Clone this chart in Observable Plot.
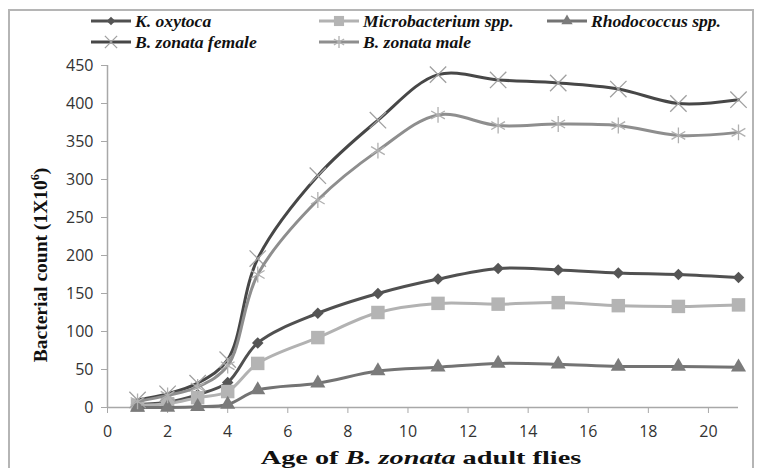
<!DOCTYPE html>
<html>
<head>
<meta charset="utf-8">
<script src="https://cdn.jsdelivr.net/npm/d3@7"></script>
<script src="https://cdn.jsdelivr.net/npm/@observablehq/plot@0.6"></script>
<style>
  html, body { margin: 0; padding: 0; background: #fff; }
  #wrap { position: relative; width: 758px; height: 468px; overflow: hidden; }
  #frame { position: absolute; left: 8px; top: 9px; width: 746px; height: 480px; border: 2px solid #b5b5b5; box-sizing: border-box; pointer-events: none; }
  #legend { position: absolute; left: 0; top: 0; width: 758px; height: 60px; font-family: "Liberation Serif", "DejaVu Serif", serif; font-weight: bold; font-style: italic; font-size: 17.6px; color: #111; }
  .item { position: absolute; display: flex; align-items: center; white-space: nowrap; }
  .item svg { margin-right: 3px; }
  #ylabel { position: absolute; left: 40px; top: 265px; width: max-content; transform: translate(-50%, -50%) rotate(-90deg); font-family: "Liberation Serif", serif; font-weight: bold; font-size: 19.5px; white-space: nowrap; color: #111; }
  #xlabel { position: absolute; left: 421px; top: 458px; width: max-content; line-height: 1; transform: translate(-50%, -50%) scaleX(1.45); font-family: "Liberation Serif", serif; font-weight: bold; font-size: 19.5px; white-space: nowrap; color: #111; }
</style>
</head>
<body>
<div id="wrap">
  <div id="chart"></div>
  <div id="frame"></div>
  <div id="legend"></div>
  <div id="ylabel">Bacterial count (1X10<sup style="font-size:12px">6</sup>)</div>
  <div id="xlabel">Age of <i>B. zonata</i> adult flies</div>
</div>
<script>
const days = [1, 2, 3, 4, 5, 7, 9, 11, 13, 15, 17, 19, 21];
const kOxytoca = [4, 7, 17, 33, 85, 124, 150, 169, 183, 181, 177, 175, 171];
const microbacterium = [3, 5, 13, 21, 58, 92, 125, 137, 136, 138, 134, 133, 135];
const rhodococcus = [0, 0, 1, 4, 23, 32, 48, 53, 58, 57, 54, 54, 53];
const zonataFemale = [10, 18, 32, 63, 196, 305, 378, 438, 431, 427, 419, 400, 405];
const zonataMale = [8, 16, 27, 55, 175, 273, 338, 385, 371, 373, 371, 358, 362];
const seriesNames = ["K. oxytoca", "Microbacterium spp.", "Rhodococcus spp.", "B. zonata female", "B. zonata male"];
const xTicks = [0, 2, 4, 6, 8, 10, 12, 14, 16, 18, 20];
const yTicks = [0, 50, 100, 150, 200, 250, 300, 350, 400, 450];

const seriesValues = [kOxytoca, microbacterium, rhodococcus, zonataFemale, zonataMale];

// rhombus (square rotated 45°) like Excel's diamond marker
const rhombus = {
  draw(context, size) {
    const h = Math.sqrt(size / 2);
    context.moveTo(0, -h);
    context.lineTo(h, 0);
    context.lineTo(0, h);
    context.lineTo(-h, 0);
    context.closePath();
  }
};

const styles = [
  {line: "#505050", mark: "#555555", symbol: rhombus, r: 4.6, filled: true},
  {line: "#b2b2b2", mark: "#b4b4b4", symbol: d3.symbolSquare, r: 7.6, filled: true},
  {line: "#737373", mark: "#7b7b7b", symbol: d3.symbolTriangle, r: 5.6, filled: true},
  {line: "#474747", mark: "#a0a0a0", symbol: d3.symbolTimes, r: 7.5, filled: false},
  {line: "#8e8e8e", mark: "#b0b0b0", symbol: d3.symbolAsterisk, r: 7.5, filled: false}
];

const marks = [];
seriesNames.forEach((name, i) => {
  const data = days.map((d, j) => ({day: d, value: seriesValues[i][j]}));
  const st = styles[i];
  marks.push(Plot.line(data, {x: "day", y: "value", stroke: st.line, strokeWidth: 3, curve: "catmull-rom"}));
  if (st.filled) {
    marks.push(Plot.dot(data, {x: "day", y: "value", symbol: st.symbol, r: st.r, fill: st.mark, stroke: "none"}));
  } else {
    marks.push(Plot.dot(data, {x: "day", y: "value", symbol: st.symbol, r: st.r, stroke: st.mark, strokeWidth: 1.3, fill: "none"}));
  }
});

const chart = Plot.plot({
  width: 758,
  height: 468,
  marginLeft: 107,
  marginRight: 20,
  marginTop: 65,
  marginBottom: 61,
  style: {fontFamily: "'Open Sans', sans-serif", fontSize: "16px", color: "#333", background: "transparent"},
  x: {domain: [0, 21], label: null},
  y: {domain: [0, 450], label: null},
  marks: [
    Plot.ruleY([0], {stroke: "#a8a8a8", strokeWidth: 1.5}),
    Plot.ruleX([0], {stroke: "#a8a8a8", strokeWidth: 1.5}),
    Plot.axisX({ticks: xTicks, tickSize: 6, tickPadding: 12, stroke: "#a8a8a8", fill: "#333", label: null, tickFormat: d3.format("d")}),
    Plot.axisY({ticks: yTicks, tickSize: 6, tickPadding: 8, stroke: "#a8a8a8", fill: "#333", label: null}),
    ...marks
  ]
});
document.getElementById("chart").appendChild(chart);

// Legend (HTML)
const legendPos = [
  {left: 90, top: 21}, {left: 318, top: 21}, {left: 546, top: 21},
  {left: 90, top: 42}, {left: 318, top: 42}
];
const legend = document.getElementById("legend");
seriesNames.forEach((name, i) => {
  const st = styles[i];
  const item = document.createElement("div");
  item.className = "item";
  item.style.left = legendPos[i].left + "px";
  item.style.top = (legendPos[i].top - 11) + "px";
  const svg = d3.create("svg").attr("width", 42).attr("height", 22);
  svg.append("line").attr("x1", 1).attr("x2", 41).attr("y1", 11).attr("y2", 11)
    .attr("stroke", st.line).attr("stroke-width", 3);
  const r = st.r * 0.75;
  const path = d3.symbol(st.symbol, Math.PI * r * r)();
  const p = svg.append("path").attr("d", path).attr("transform", "translate(21,11)");
  if (st.filled) p.attr("fill", st.mark); else p.attr("fill", "none").attr("stroke", st.mark).attr("stroke-width", 1.3);
  item.appendChild(svg.node());
  const label = document.createElement("span");
  label.textContent = name;
  item.appendChild(label);
  legend.appendChild(item);
});
</script>
</body>
</html>
